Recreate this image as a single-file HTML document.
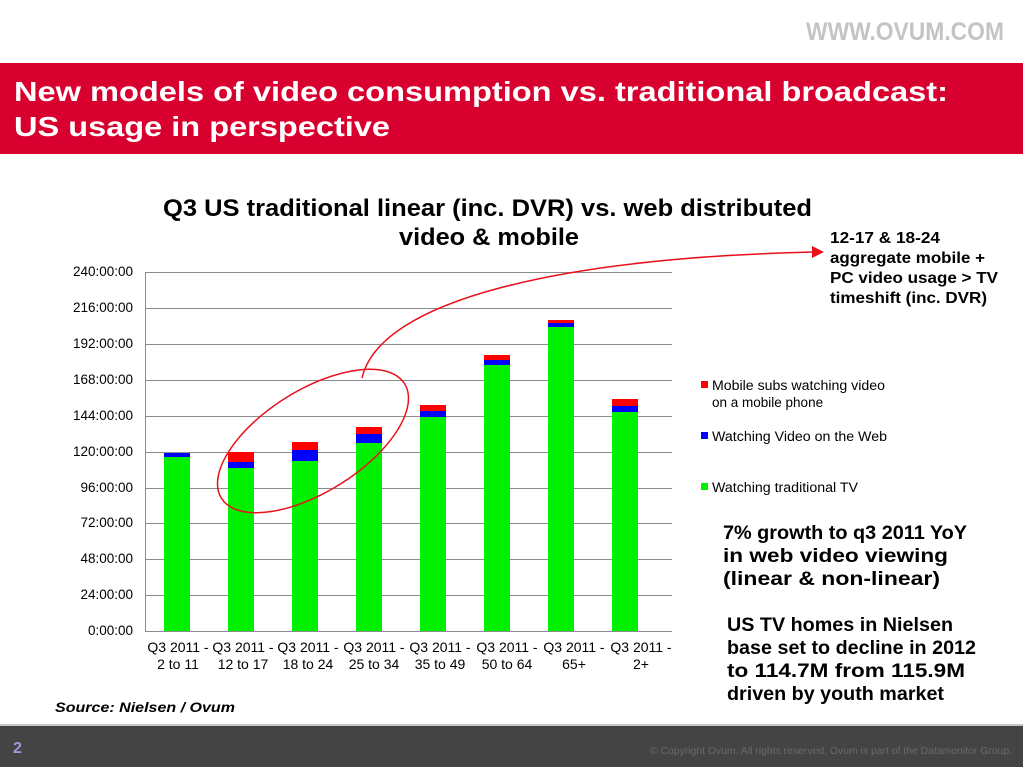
<!DOCTYPE html>
<html><head><meta charset="utf-8"><style>
html,body{margin:0;padding:0;background:#fff;}
body{width:1023px;height:767px;overflow:hidden;position:relative;font-family:"Liberation Sans",Arial,sans-serif;}
</style></head><body>
<svg width="1023" height="767" viewBox="0 0 1023 767" xmlns="http://www.w3.org/2000/svg" font-family="Liberation Sans, Arial, sans-serif">
<text x="806" y="40" font-size="25" font-weight="bold" fill="#c4c4c4" textLength="198" lengthAdjust="spacingAndGlyphs">WWW.OVUM.COM</text>
<rect x="0" y="63" width="1023" height="91" fill="#d8002e"/>
<text x="14" y="101" font-size="28" font-weight="bold" fill="#fff" textLength="934" lengthAdjust="spacingAndGlyphs">New models of video consumption vs. traditional broadcast:</text>
<text x="14" y="136" font-size="28" font-weight="bold" fill="#fff" textLength="376" lengthAdjust="spacingAndGlyphs">US usage in perspective</text>
<text x="163" y="216" font-size="24" font-weight="bold" fill="#000" textLength="649" lengthAdjust="spacingAndGlyphs">Q3 US traditional linear (inc. DVR) vs. web distributed</text>
<text x="399" y="245" font-size="24" font-weight="bold" fill="#000" textLength="180" lengthAdjust="spacingAndGlyphs">video &amp; mobile</text>
<g stroke="#8c8c8c" stroke-width="1">
<line x1="145" y1="272.5" x2="672" y2="272.5"/><line x1="145" y1="308.5" x2="672" y2="308.5"/>
<line x1="145" y1="344.5" x2="672" y2="344.5"/><line x1="145" y1="380.5" x2="672" y2="380.5"/>
<line x1="145" y1="416.5" x2="672" y2="416.5"/><line x1="145" y1="452.5" x2="672" y2="452.5"/>
<line x1="145" y1="488.5" x2="672" y2="488.5"/><line x1="145" y1="523.5" x2="672" y2="523.5"/>
<line x1="145" y1="559.5" x2="672" y2="559.5"/><line x1="145" y1="595.5" x2="672" y2="595.5"/>
<line x1="145" y1="631.5" x2="672" y2="631.5"/><line x1="145.5" y1="272" x2="145.5" y2="631"/>
</g>
<g font-size="13.5" fill="#000" text-anchor="end">
<text x="133" y="276">240:00:00</text><text x="133" y="312">216:00:00</text><text x="133" y="348">192:00:00</text>
<text x="133" y="384">168:00:00</text><text x="133" y="420">144:00:00</text><text x="133" y="456">120:00:00</text>
<text x="133" y="492">96:00:00</text><text x="133" y="527">72:00:00</text><text x="133" y="563">48:00:00</text>
<text x="133" y="599">24:00:00</text><text x="133" y="635">0:00:00</text>
</g>
<g>
<rect x="164" y="457" width="26" height="174" fill="#00f000"/><rect x="164" y="453" width="26" height="4" fill="#0000ff"/>
<rect x="228" y="468" width="26" height="163" fill="#00f000"/><rect x="228" y="462" width="26" height="6" fill="#0000ff"/><rect x="228" y="452" width="26" height="10" fill="#ff0000"/>
<rect x="292" y="461" width="26" height="170" fill="#00f000"/><rect x="292" y="450" width="26" height="11" fill="#0000ff"/><rect x="292" y="442" width="26" height="8" fill="#ff0000"/>
<rect x="356" y="443" width="26" height="188" fill="#00f000"/><rect x="356" y="434" width="26" height="9" fill="#0000ff"/><rect x="356" y="427" width="26" height="7" fill="#ff0000"/>
<rect x="420" y="417" width="26" height="214" fill="#00f000"/><rect x="420" y="411" width="26" height="6" fill="#0000ff"/><rect x="420" y="405" width="26" height="6" fill="#ff0000"/>
<rect x="484" y="365" width="26" height="266" fill="#00f000"/><rect x="484" y="360" width="26" height="5" fill="#0000ff"/><rect x="484" y="355" width="26" height="5" fill="#ff0000"/>
<rect x="548" y="327" width="26" height="304" fill="#00f000"/><rect x="548" y="323" width="26" height="4" fill="#0000ff"/><rect x="548" y="320" width="26" height="3" fill="#ff0000"/>
<rect x="612" y="412" width="26" height="219" fill="#00f000"/><rect x="612" y="406" width="26" height="6" fill="#0000ff"/><rect x="612" y="399" width="26" height="7" fill="#ff0000"/>
</g>
<g font-size="14" fill="#000" text-anchor="middle">
<text x="178" y="652">Q3 2011 -</text><text x="178" y="669">2 to 11</text>
<text x="243" y="652">Q3 2011 -</text><text x="243" y="669">12 to 17</text>
<text x="308" y="652">Q3 2011 -</text><text x="308" y="669">18 to 24</text>
<text x="374" y="652">Q3 2011 -</text><text x="374" y="669">25 to 34</text>
<text x="440" y="652">Q3 2011 -</text><text x="440" y="669">35 to 49</text>
<text x="507" y="652">Q3 2011 -</text><text x="507" y="669">50 to 64</text>
<text x="574" y="652">Q3 2011 -</text><text x="574" y="669">65+</text>
<text x="641" y="652">Q3 2011 -</text><text x="641" y="669">2+</text>
</g>
<ellipse cx="313" cy="441" rx="108" ry="51" transform="rotate(-32 313 441)" fill="none" stroke="#e8101a" stroke-width="1.5"/>
<path d="M362,378 C380,300 560,258 814,252" fill="none" stroke="#e8101a" stroke-width="1.5"/>
<polygon points="824,252 812,246 812,258" fill="#e8101a"/>
<g font-size="13.5" fill="#000">
<rect x="701" y="381" width="7" height="7" fill="#ff0000"/><text x="712" y="390" textLength="173" lengthAdjust="spacingAndGlyphs">Mobile subs watching video</text><text x="712" y="407">on a mobile phone</text>
<rect x="701" y="432" width="7" height="7" fill="#0000ff"/><text x="712" y="441" textLength="175" lengthAdjust="spacingAndGlyphs">Watching Video on the Web</text>
<rect x="701" y="483" width="7" height="7" fill="#00f000"/><text x="712" y="492" textLength="146" lengthAdjust="spacingAndGlyphs">Watching traditional TV</text>
</g>
<g font-size="16" font-weight="bold" fill="#000">
<text x="830" y="243" textLength="110" lengthAdjust="spacingAndGlyphs">12-17 &amp; 18-24</text>
<text x="830" y="263" textLength="155" lengthAdjust="spacingAndGlyphs">aggregate mobile +</text>
<text x="830" y="283" textLength="168" lengthAdjust="spacingAndGlyphs">PC video usage &gt; TV</text>
<text x="830" y="303" textLength="157" lengthAdjust="spacingAndGlyphs">timeshift (inc. DVR)</text>
</g>
<g font-size="19" font-weight="bold" fill="#000">
<text x="723" y="539" textLength="244" lengthAdjust="spacingAndGlyphs">7% growth to q3 2011 YoY</text>
<text x="723" y="562" textLength="225" lengthAdjust="spacingAndGlyphs">in web video viewing</text>
<text x="723" y="585" textLength="217" lengthAdjust="spacingAndGlyphs">(linear &amp; non-linear)</text>
<text x="727" y="631" textLength="226" lengthAdjust="spacingAndGlyphs">US TV homes in Nielsen</text>
<text x="727" y="654" textLength="249" lengthAdjust="spacingAndGlyphs">base set to decline in 2012</text>
<text x="727" y="677" textLength="238" lengthAdjust="spacingAndGlyphs">to 114.7M from 115.9M</text>
<text x="727" y="700" textLength="217" lengthAdjust="spacingAndGlyphs">driven by youth market</text>
</g>
<text x="55" y="712" font-size="14" font-weight="bold" font-style="italic" fill="#000" textLength="180" lengthAdjust="spacingAndGlyphs">Source: Nielsen / Ovum</text>
<rect x="0" y="724" width="1023" height="2" fill="#c8c8c8"/>
<rect x="0" y="726" width="1023" height="41" fill="#444444"/>
<text x="13" y="753" font-size="16" font-weight="bold" fill="#9a9ad8">2</text>
<text x="650" y="754" font-size="10" fill="#6a6a6a" textLength="362" lengthAdjust="spacingAndGlyphs">© Copyright Ovum. All rights reserved. Ovum is part of the Datamonitor Group.</text>
</svg>
</body></html>
